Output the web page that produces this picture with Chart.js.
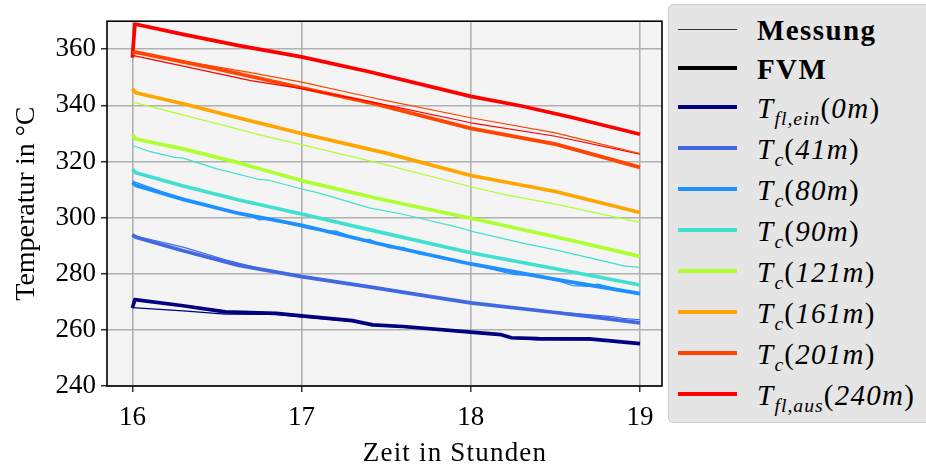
<!DOCTYPE html>
<html>
<head>
<meta charset="utf-8">
<script src="https://cdn.jsdelivr.net/npm/chart.js@4.4.0/dist/chart.umd.min.js"></script>
<style>
  html, body { margin: 0; padding: 0; background: #fff; }
  #wrap { position: relative; width: 926px; height: 470px; overflow: hidden; }
  #chart { position: absolute; left: 0; top: 0; }
  #xtitle { position: absolute; left: 300px; width: 310px; top: 434px; text-align: center; font-family: 'Liberation Serif', serif;
            font-size: 27px; line-height: 36px; letter-spacing: 1.2px; color: #000; }
  #legend { position: absolute; left: 668px; top: 4px; width: 280px; height: 419px; background: #e5e5e5;
            border: 1px solid #cccccc; border-radius: 5px; box-sizing: border-box; }
  .row { position: absolute; left: 0; width: 280px; height: 40px; }
  .sample { position: absolute; left: 9px; width: 59px; }
  .lab { position: absolute; left: 88px; top: 1px; white-space: nowrap; font-family: 'Liberation Serif', serif;
         font-size: 29px; line-height: 40px; color: #000; letter-spacing: 1.3px; }
  .lab b { font-size: 29px; letter-spacing: 1.4px; }
  .lab sub { font-size: 0.68em; vertical-align: -0.38em; line-height: 0; letter-spacing: 1px; }
</style>
</head>
<body>
<div id="wrap">
  <canvas id="chart" width="926" height="470"></canvas>
  <div id="xtitle">Zeit in Stunden</div>
  <div id="legend"></div>
</div>
<script>
// time in hours, temperature in °C
const fvmTflEin = [[16,267.8],[16.015,270.8],[16.3,268.6],[16.55,266.4],[16.85,265.9],[17.0,265.0],[17.3,263.3],[17.42,261.8],[17.6,261.2],[18.0,259.2],[18.18,258.3],[18.24,257.2],[18.4,256.9],[18.7,256.8],[19.0,255.1]];
const messTflEin = [[16,267.9],[16.3,266.8],[16.55,265.6],[16.85,265.5],[17.0,264.6],[17.3,263.0],[17.42,261.5],[17.6,261.0],[18.0,259.0],[18.18,258.0],[18.24,257.0],[18.4,256.4],[18.7,256.5],[19.0,255.2]];

const fvmTc41 = [[16,293.9],[16.02,293.0],[16.3,288.2],[16.63,283.0],[17.0,279.0],[17.4,275.3],[17.8,271.5],[18.0,269.6],[18.5,266.2],[18.8,264.0],[19.0,262.5]];
const messTc41 = [[16,294.0],[16.05,293.0],[16.3,289.5],[16.55,285.0],[16.75,281.9],[17.0,279.3],[17.4,275.6],[17.8,271.7],[18.0,269.8],[18.5,266.4],[18.85,264.6],[18.9,264.1],[19.0,263.6]];

const fvmTc80 = [[16,312.5],[16.02,311.5],[16.3,306.5],[16.63,301.5],[17.0,297.3],[17.45,290.8],[18.0,283.5],[18.5,278.0],[19.0,272.9]];
const messTc80 = [[16,313.0],[16.3,306.5],[16.7,300.5],[16.75,299.2],[16.8,299.5],[17.05,296.0],[17.15,295.2],[17.2,295.3],[17.35,292.0],[17.4,292.3],[17.52,289.2],[17.6,289.4],[17.7,286.9],[17.8,286.5],[18.0,283.5],[18.25,279.8],[18.35,279.3],[18.5,277.8],[18.6,275.8],[18.7,275.5],[18.75,276.3],[19.0,272.6]];

const fvmTc90 = [[16,317.2],[16.02,316.0],[16.3,311.3],[16.63,306.3],[17.0,301.3],[17.45,295.0],[18.0,287.5],[18.5,281.8],[19.0,276.0]];
const messTc90 = [[16,325.7],[16.1,323.6],[16.25,321.5],[16.3,321.2],[16.5,317.4],[16.75,313.6],[16.8,313.4],[17.0,310.2],[17.1,308.8],[17.4,303.5],[17.6,301.2],[17.95,296.2],[18.0,295.2],[18.3,291.0],[18.5,288.5],[18.85,283.6],[18.9,282.8],[19.0,282.3]];

const fvmTc121 = [[16,329.6],[16.02,328.0],[16.3,324.5],[16.63,319.5],[17.0,313.2],[17.45,306.8],[18.0,299.8],[18.5,293.2],[19.0,286.2]];
const messTc121 = [[16,341.2],[16.13,339.2],[16.5,333.5],[16.8,328.8],[17.0,326.0],[17.5,318.8],[18.0,311.0],[18.2,308.2],[18.5,304.8],[19.0,298.3]];

const fvmTc161 = [[16,345.9],[16.02,344.5],[16.3,340.6],[16.63,335.5],[17.0,330.0],[17.5,323.0],[18.0,315.0],[18.5,309.3],[19.0,301.8]];

const fvmTc201 = [[16,358.5],[16.02,359.0],[16.5,353.0],[17.0,346.3],[17.4,341.0],[18.0,331.8],[18.5,326.2],[19.0,317.9]];
const messTc201 = [[16,358.8],[16.3,355.8],[16.7,351.7],[17.0,348.3],[17.4,343.0],[17.45,342.3],[18.0,335.6],[18.5,330.2],[19.0,322.8]];

const fvmTflAus = [[16,357.0],[16.015,369.0],[16.3,365.3],[16.63,361.3],[17.0,357.3],[17.4,352.0],[18.0,343.2],[18.3,339.8],[18.6,335.7],[19.0,329.7]];
const messTflAus = [[16,357.8],[16.3,354.0],[16.7,348.8],[17.0,346.0],[17.4,341.4],[18.0,333.8],[18.5,329.0],[19.0,322.6]];

const seriesLabels = [
  '<i>T</i><sub><i>fl,ein</i></sub>(<i>0m</i>)',
  '<i>T</i><sub><i>c</i></sub>(<i>41m</i>)',
  '<i>T</i><sub><i>c</i></sub>(<i>80m</i>)',
  '<i>T</i><sub><i>c</i></sub>(<i>90m</i>)',
  '<i>T</i><sub><i>c</i></sub>(<i>121m</i>)',
  '<i>T</i><sub><i>c</i></sub>(<i>161m</i>)',
  '<i>T</i><sub><i>c</i></sub>(<i>201m</i>)',
  '<i>T</i><sub><i>fl,aus</i></sub>(<i>240m</i>)'
];
const fvmSeries = [fvmTflEin, fvmTc41, fvmTc80, fvmTc90, fvmTc121, fvmTc161, fvmTc201, fvmTflAus];
const messSeries = [messTflEin, messTc41, messTc80, messTc90, messTc121, null, messTc201, messTflAus];
const xTicks = [16, 17, 18, 19];
const yTicks = [240, 260, 280, 300, 320, 340, 360];

const colors = ['#000080', '#4169e1', '#1e90ff', '#40e0d0', '#adff2f', '#ffa500', '#ff4500', '#ff0000'];
const font = 'Liberation Serif';

const toXY = arr => arr.map(p => ({x: p[0], y: p[1]}));

// thin measurement lines first so they sit on top
var datasets = [];
messSeries.forEach((s, i) => {
  if (!s) return;
  datasets.push({ label: 'Messung', data: toXY(s), borderColor: colors[i], borderWidth: 1.2 });
});
fvmSeries.forEach((s, i) => {
  datasets.push({ label: 'FVM', data: toXY(s), borderColor: colors[i], borderWidth: 3.7 });
});

const framePlugin = {
  id: 'frame',
  beforeDraw(c) {
    const a = c.chartArea, ctx = c.ctx;
    ctx.save();
    ctx.fillStyle = '#f4f4f4';
    ctx.fillRect(a.left, a.top, a.right - a.left, a.bottom - a.top);
    ctx.restore();
  },
  afterDraw(c) {
    const a = c.chartArea, ctx = c.ctx;
    ctx.save();
    ctx.strokeStyle = '#000';
    ctx.lineWidth = 1.6;
    ctx.strokeRect(a.left, a.top, a.right - a.left, a.bottom - a.top);
    ctx.restore();
  }
};

new Chart(document.getElementById('chart'), {
  type: 'line',
  data: { datasets: datasets },
  options: {
    responsive: false,
    animation: false,
    devicePixelRatio: 1,
    layout: { padding: { top: 20, right: 264, left: 0, bottom: 0 } },
    plugins: { legend: { display: false }, tooltip: { enabled: false } },
    elements: {
      point: { radius: 0 },
      line: { tension: 0, borderJoinStyle: 'round', fill: false }
    },
    scales: {
      x: {
        type: 'linear', min: 15.85, max: 19.13,
        afterFit: s => { s.height = 84; },
        afterBuildTicks: s => { s.ticks = xTicks.map(v => ({value: v})); },
        border: { display: false },
        grid: { color: '#b0b0b0', lineWidth: 1.6, tickColor: '#000', tickLength: 6, tickWidth: 1.2 },
        ticks: { color: '#000', font: { family: font, size: 27 }, padding: 10, maxRotation: 0, autoSkip: false,
                 callback: v => String(v) },
        title: { display: false }
      },
      y: {
        min: 240, max: 370,
        afterFit: s => { s.width = 107; },
        afterBuildTicks: s => { s.ticks = yTicks.map(v => ({value: v})); },
        border: { display: false },
        grid: { color: '#b0b0b0', lineWidth: 1.6, tickColor: '#000', tickLength: 6, tickWidth: 1.2 },
        ticks: { color: '#000', font: { family: font, size: 27 }, padding: 5, autoSkip: false,
                 callback: v => String(v) },
        title: { display: true, text: 'Temperatur in °C', color: '#000', font: { family: font, size: 28 },
                 padding: { top: 10, bottom: 0 } }
      }
    }
  },
  plugins: [framePlugin]
});

// legend box (html so the subscripts render)
const legendRows = [{ html: '<b>Messung</b>', color: '#333', width: 1 }, { html: '<b>FVM</b>', color: '#000', width: 3.5 }]
  .concat(seriesLabels.map((l, i) => ({ html: l, color: colors[i], width: 3.5 })));
const rowCenters = [24, 63, 102, 143, 184, 225, 266, 307, 348, 389];
const legend = document.getElementById('legend');
legendRows.forEach((r, i) => {
  const row = document.createElement('div');
  row.className = 'row';
  row.style.top = (rowCenters[i] - 20) + 'px';
  const sample = document.createElement('div');
  sample.className = 'sample';
  sample.style.height = r.width + 'px';
  sample.style.top = (20 - r.width / 2) + 'px';
  sample.style.background = r.color;
  const lab = document.createElement('div');
  lab.className = 'lab';
  lab.innerHTML = r.html;
  row.appendChild(sample);
  row.appendChild(lab);
  legend.appendChild(row);
});
</script>
</body>
</html>
